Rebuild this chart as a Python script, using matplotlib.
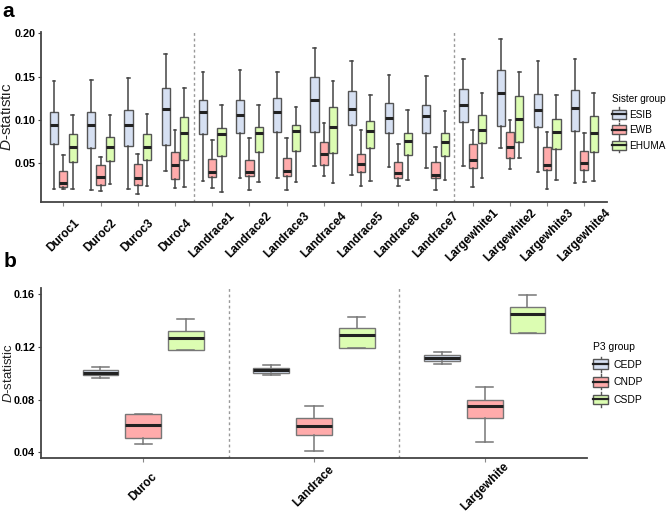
import numpy as np
import matplotlib
matplotlib.use("Agg")
import matplotlib.pyplot as plt
from matplotlib.legend_handler import HandlerBase
from matplotlib.patches import Rectangle
from matplotlib.lines import Line2D

plt.rcParams['font.family'] = ['Liberation Sans', 'DejaVu Sans']
plt.rcParams['mathtext.fontset'] = 'custom'
plt.rcParams['mathtext.rm'] = 'Liberation Sans'
plt.rcParams['mathtext.it'] = 'Liberation Sans:italic'

# ---- panel a data: whisker low, Q1, median, Q3, whisker high ----
breeds_a = ['Duroc1', 'Duroc2', 'Duroc3', 'Duroc4',
            'Landrace1', 'Landrace2', 'Landrace3', 'Landrace4',
            'Landrace5', 'Landrace6', 'Landrace7',
            'Largewhite1', 'Largewhite2', 'Largewhite3', 'Largewhite4']
groups_a = ['ESIB', 'EWB', 'EHUMA']

esib_lo = [0.0202, 0.0195, 0.0206, 0.0410, 0.0303, 0.0333, 0.0337, 0.0468, 0.0372, 0.0457, 0.0453, 0.0476, 0.0676, 0.0399, 0.0279]
esib_q1 = [0.0726, 0.0680, 0.0703, 0.0711, 0.0838, 0.0857, 0.0868, 0.0868, 0.0942, 0.0857, 0.0853, 0.0980, 0.0934, 0.0915, 0.0880]
esib_med = [0.0938, 0.0945, 0.0945, 0.1134, 0.1088, 0.1061, 0.1099, 0.1234, 0.1130, 0.1030, 0.1045, 0.1169, 0.1315, 0.1122, 0.1142]
esib_q3 = [0.1088, 0.1095, 0.1111, 0.1369, 0.1230, 0.1230, 0.1253, 0.1496, 0.1334, 0.1192, 0.1169, 0.1357, 0.1584, 0.1307, 0.1349]
esib_hi = [0.1453, 0.1461, 0.1484, 0.1758, 0.1550, 0.1577, 0.1561, 0.1838, 0.1688, 0.1523, 0.1507, 0.1700, 0.1931, 0.1677, 0.1700]

ewb_lo = [0.0206, 0.0179, 0.0145, 0.0222, 0.0214, 0.0199, 0.0199, 0.0353, 0.0237, 0.0237, 0.0191, 0.0226, 0.0437, 0.0210, 0.0291]
ewb_q1 = [0.0233, 0.0249, 0.0256, 0.0322, 0.0349, 0.0360, 0.0360, 0.0483, 0.0399, 0.0329, 0.0337, 0.0449, 0.0560, 0.0422, 0.0426]
ewb_med = [0.0272, 0.0345, 0.0337, 0.0483, 0.0406, 0.0406, 0.0418, 0.0607, 0.0499, 0.0387, 0.0368, 0.0541, 0.0687, 0.0483, 0.0507]
ewb_q3 = [0.0418, 0.0487, 0.0495, 0.0630, 0.0553, 0.0545, 0.0568, 0.0753, 0.0607, 0.0514, 0.0522, 0.0722, 0.0868, 0.0695, 0.0649]
ewb_hi = [0.0603, 0.0580, 0.0614, 0.0891, 0.0776, 0.0799, 0.0799, 0.0961, 0.0888, 0.0722, 0.0695, 0.0884, 0.1000, 0.0865, 0.0857]

ehuma_lo = [0.0202, 0.0268, 0.0237, 0.0226, 0.0175, 0.0291, 0.0291, 0.0272, 0.0295, 0.0314, 0.0306, 0.0337, 0.0568, 0.0314, 0.0303]
ehuma_q1 = [0.0522, 0.0530, 0.0537, 0.0537, 0.0587, 0.0637, 0.0649, 0.0626, 0.0680, 0.0599, 0.0591, 0.0734, 0.0753, 0.0668, 0.0637]
ehuma_med = [0.0684, 0.0687, 0.0687, 0.0853, 0.0838, 0.0857, 0.0880, 0.0922, 0.0872, 0.0757, 0.0749, 0.0884, 0.1015, 0.0861, 0.0853]
ehuma_q3 = [0.0838, 0.0803, 0.0845, 0.1034, 0.0911, 0.0926, 0.0942, 0.1149, 0.0995, 0.0857, 0.0849, 0.1061, 0.1273, 0.1011, 0.1046]
ehuma_hi = [0.1057, 0.1057, 0.1072, 0.1369, 0.1169, 0.1180, 0.1157, 0.1446, 0.1292, 0.1111, 0.1103, 0.1315, 0.1561, 0.1292, 0.1315]

# ---- panel b data ----
breeds_b = ['Duroc', 'Landrace', 'Largewhite']
groups_b = ['CEDP', 'CNDP', 'CSDP']

cedp_lo = [0.0963, 0.0991, 0.1074]
cedp_q1 = [0.0985, 0.1006, 0.1094]
cedp_med = [0.1005, 0.1023, 0.1117]
cedp_q3 = [0.1030, 0.1044, 0.1142]
cedp_hi = [0.1049, 0.1061, 0.1160]

cndp_lo = [0.0463, 0.0415, 0.0478]
cndp_q1 = [0.0511, 0.0531, 0.0662]
cndp_med = [0.0612, 0.0604, 0.0751]
cndp_q3 = [0.0693, 0.0665, 0.0801]
cndp_hi = [0.0693, 0.0751, 0.0897]

csdp_lo = [0.1177, 0.1190, 0.1306]
csdp_q1 = [0.1177, 0.1190, 0.1306]
csdp_med = [0.1268, 0.1296, 0.1452]
csdp_q3 = [0.1319, 0.1344, 0.1508]
csdp_hi = [0.1417, 0.1432, 0.1594]

fill_colors = ['#d6e0f2', '#ffabab', '#dcfdb2']


def make_stats(lo, q1, med, q3, hi):
    return [dict(whislo=a, q1=b, med=c, q3=d, whishi=e, fliers=[])
            for a, b, c, d, e in zip(lo, q1, med, q3, hi)]


class BoxKey(HandlerBase):
    def create_artists(self, legend, orig_handle, xdescent, ydescent,
                       width, height, fontsize, trans):
        x0, y0 = -xdescent, -ydescent
        wl = Line2D([x0 + width / 2] * 2, [y0 - 0.2 * height, y0 + 1.2 * height],
                    color='#555555', lw=1.0, transform=trans)
        box = Rectangle((x0, y0 + 0.05 * height), width, 0.9 * height,
                        facecolor=orig_handle.get_facecolor(), edgecolor='#555555',
                        lw=1.0, transform=trans)
        med = Line2D([x0, x0 + width], [y0 + height / 2] * 2,
                     color='#222222', lw=1.6, transform=trans)
        return [wl, box, med]


def draw_panel(ax, stats_list, n, offset, width, capw, edge, whisk):
    for k, stats in enumerate(stats_list):
        pos = np.arange(1, n + 1) + (k - 1) * offset
        ax.bxp(stats, positions=pos, widths=width, patch_artist=True,
               showfliers=False, capwidths=capw, manage_ticks=False,
               boxprops=dict(facecolor=fill_colors[k], edgecolor=edge, linewidth=1.0),
               medianprops=dict(color='#222222', linewidth=2.2),
               whiskerprops=dict(color=whisk, linewidth=1.1),
               capprops=dict(color=whisk, linewidth=1.1))


fig = plt.figure(figsize=(6.69, 5.12), dpi=100)

# ---------------- panel a ----------------
ax1 = fig.add_axes([0.0613, 0.606, 0.8456, 0.332])
stats_a = [make_stats(esib_lo, esib_q1, esib_med, esib_q3, esib_hi),
           make_stats(ewb_lo, ewb_q1, ewb_med, ewb_q3, ewb_hi),
           make_stats(ehuma_lo, ehuma_q1, ehuma_med, ehuma_q3, ehuma_hi)]
draw_panel(ax1, stats_a, len(breeds_a), 0.25, 0.22, 0.07, '#555555', '#444444')
for xv in [4.5, 11.5]:
    ax1.axvline(xv, color='#999999', lw=1.0, ls=(0, (2, 2)))
ax1.set_xlim(0.4, len(breeds_a) + 0.6)
ax1.set_ylim(0.0058, 0.202)
ax1.set_yticks([0.05, 0.10, 0.15, 0.20])
ax1.set_yticklabels(['0.05', '0.10', '0.15', '0.20'])
ax1.set_xticks(np.arange(1, len(breeds_a) + 1))
ax1.set_xticklabels(breeds_a)
ax1.set_ylabel('$D$-statistic', fontsize=11, color='#222222')
ax1.yaxis.set_label_coords(-0.047, 0.5)
ax1.tick_params(axis='x', length=3, color='#888888', width=0.8, pad=21)
ax1.tick_params(axis='y', length=2.5, color='#444444', width=0.8, pad=1.5)

# ---------------- panel b ----------------
ax2 = fig.add_axes([0.0608, 0.1049, 0.817, 0.332])
stats_b = [make_stats(cedp_lo, cedp_q1, cedp_med, cedp_q3, cedp_hi),
           make_stats(cndp_lo, cndp_q1, cndp_med, cndp_q3, cndp_hi),
           make_stats(csdp_lo, csdp_q1, csdp_med, csdp_q3, csdp_hi)]
draw_panel(ax2, stats_b, len(breeds_b), 0.25, 0.21, 0.1, '#777777', '#777777')
for xv in [1.5, 2.5]:
    ax2.axvline(xv, color='#999999', lw=1.0, ls=(0, (2, 2)))
ax2.set_xlim(0.4, len(breeds_b) + 0.6)
ax2.set_ylim(0.0356, 0.1647)
ax2.set_yticks([0.04, 0.08, 0.12, 0.16])
ax2.set_yticklabels(['0.04', '0.08', '0.12', '0.16'])
ax2.set_xticks(np.arange(1, len(breeds_b) + 1))
ax2.set_xticklabels(breeds_b)
ax2.set_ylabel('$D$-statistic', fontsize=9.5, color='#222222')
ax2.yaxis.set_label_coords(-0.047, 0.5)
ax2.tick_params(axis='x', length=3, color='#888888', width=0.8, pad=17.5)
ax2.tick_params(axis='y', length=2.5, color='#444444', width=0.8, pad=1.5)

for ax in (ax1, ax2):
    for s in ['top', 'right']:
        ax.spines[s].set_visible(False)
    for s in ['left', 'bottom']:
        ax.spines[s].set_color('#444444')
        ax.spines[s].set_linewidth(1.3)
    for lab in ax.get_xticklabels():
        lab.set_rotation(45)
        lab.set_rotation_mode('anchor')
        lab.set_ha('center')
        lab.set_va('center')
        lab.set_fontweight('bold')
        lab.set_fontsize(8.5)
    for lab in ax.get_yticklabels():
        lab.set_fontweight('bold')
        lab.set_fontsize(7.8)

# legends
handles_a = [Rectangle((0, 0), 1, 1, facecolor=c) for c in fill_colors]
fig.legend(handles_a, groups_a, loc='upper left', bbox_to_anchor=(0.907, 0.826),
           title='Sister group', alignment='left', fontsize=7.2, title_fontsize=7.2,
           frameon=False, borderpad=0, handlelength=1.45, handleheight=1.2,
           handletextpad=0.3, labelspacing=0.5,
           handler_map={Rectangle: BoxKey()})

handles_b = [Rectangle((0, 0), 1, 1, facecolor=c) for c in fill_colors]
fig.legend(handles_b, groups_b, loc='upper left', bbox_to_anchor=(0.879, 0.342),
           title='P3 group', alignment='left', fontsize=7.5, title_fontsize=7.5,
           frameon=False, borderpad=0, handlelength=1.4, handleheight=1.2,
           handletextpad=0.5, labelspacing=0.65,
           handler_map={Rectangle: BoxKey()})

fig.text(0.004, 0.997, 'a', fontsize=15, fontweight='bold', va='top')
fig.text(0.006, 0.508, 'b', fontsize=15, fontweight='bold', va='top')

fig.savefig('out.png', dpi=100)
